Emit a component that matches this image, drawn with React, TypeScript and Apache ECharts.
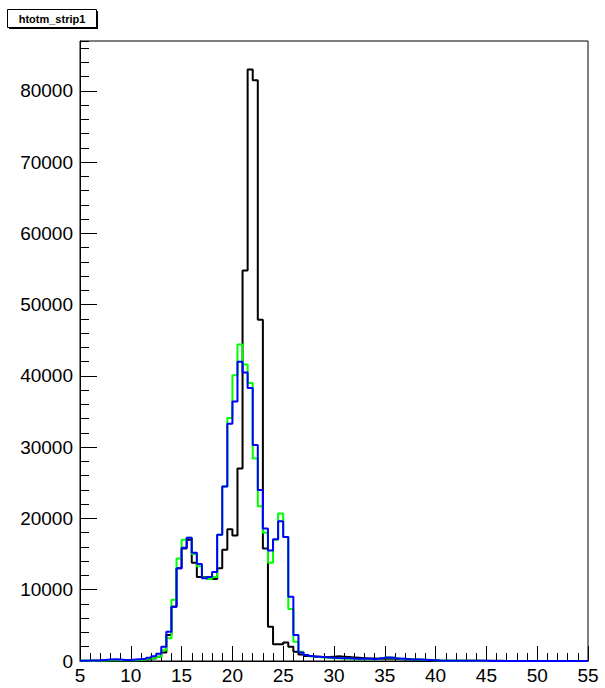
import React, { useEffect, useRef } from "react";
import * as echarts from "echarts";

const TITLE = "htotm_strip1";
const BIN_START = 5;
const BIN_WIDTH = 0.5;
const X_MIN = 5;
const X_MAX = 55;
const Y_MAX = 87000;

const blackCounts = [
  30, 40, 50, 60, 80, 90, 100, 110, 110, 130,
  150, 180, 200, 250, 350, 600, 1200, 3650, 7600, 13000,
  15800, 17000, 13800, 11800, 11800, 11500, 11500, 13000, 15600, 18500,
  17600, 27000, 54800, 83000, 81500, 47900, 15800, 4800, 2350, 2350,
  2600, 2000, 1300, 900, 700, 650, 600, 550, 550, 600,
  650, 600, 550, 500, 450, 400, 350, 350, 300, 300,
  350, 300, 250, 250, 200, 200, 180, 150, 120, 100,
  60, 50, 40, 40, 30, 30, 30, 20, 20, 20,
  20, 20, 20, 10, 10, 10, 10, 10, 10, 10,
  10, 10, 10, 10, 10, 10, 10, 10, 10, 10,
];

const greenCounts = [
  30, 40, 50, 60, 80, 100, 120, 110, 100, 100,
  120, 150, 200, 300, 400, 600, 1500, 3200, 8600, 14400,
  17000, 17300, 15000, 13300, 11700, 11500, 11800, 17700, 24500, 34100,
  40100, 44400, 41600, 39000, 28400, 21700, 18000, 13800, 17000, 20700,
  17400, 7300, 2700, 1300, 850, 650, 550, 500, 450, 400,
  380, 350, 330, 300, 280, 260, 250, 250, 280, 380,
  480, 420, 330, 280, 230, 200, 180, 160, 130, 100,
  30, 30, 20, 20, 20, 20, 20, 10, 10, 10,
  10, 10, 10, 10, 10, 10, 10, 10, 10, 10,
  10, 10, 10, 10, 10, 10, 10, 10, 10, 10,
];

const blueCounts = [
  50, 60, 80, 100, 150, 200, 250, 200, 150, 150,
  200, 250, 300, 450, 650, 1000, 2000, 4100, 7600, 13000,
  15900, 17300, 15200, 13600, 11600, 11800, 12500, 17700, 24500, 33300,
  36400, 42000, 40500, 38300, 30300, 24000, 18600, 15500, 17100, 19600,
  17400, 9000, 3650, 1200, 850, 700, 600, 550, 500, 450,
  420, 400, 380, 350, 330, 300, 300, 280, 300, 400,
  500, 450, 350, 300, 250, 220, 200, 180, 150, 120,
  40, 40, 30, 30, 30, 20, 20, 20, 20, 20,
  10, 10, 10, 10, 10, 10, 10, 10, 10, 10,
  10, 10, 10, 10, 10, 10, 10, 10, 10, 10,
];

const FONT = "'Liberation Sans', Arial, Helvetica, sans-serif";

function stepData(counts: number[]) {
  const pts: [number, number][] = counts.map((c, i) => [BIN_START + i * BIN_WIDTH, c]);
  pts.push([BIN_START + counts.length * BIN_WIDTH, counts[counts.length - 1]]);
  return pts;
}

function histSeries(name: string, counts: number[], color: string) {
  return {
    name,
    type: "line",
    step: "end",
    data: stepData(counts),
    showSymbol: false,
    symbol: "none",
    xAxisIndex: 0,
    yAxisIndex: 0,
    lineStyle: { color, width: 2 },
    clip: true,
  };
}

export default function App() {
  const ref = useRef<HTMLDivElement>(null);
  useEffect(() => {
    if (!ref.current) return;
    const chart = echarts.init(ref.current, undefined, { renderer: "svg" });
    const grid = { left: 80, right: 17, top: 41, bottom: 27, show: true, borderColor: "#000", borderWidth: 1, backgroundColor: "#fff" };
    chart.setOption({
      animation: false,
      backgroundColor: "#fff",
      grid,
      xAxis: [
        {
          type: "value", min: X_MIN, max: X_MAX, interval: 5,
          axisLine: { show: true, onZero: false, lineStyle: { color: "#000", width: 1 } },
          axisTick: { show: true, inside: true, length: 15, lineStyle: { color: "#000", width: 1 } },
          axisLabel: { color: "#000", fontSize: 19, fontFamily: FONT, margin: 5 },
          splitLine: { show: false },
        },
        {
          type: "value", min: X_MIN, max: X_MAX, interval: 1, position: "bottom",
          axisLine: { show: false },
          axisTick: { show: true, inside: true, length: 8, lineStyle: { color: "#000", width: 1 } },
          axisLabel: { show: false },
          splitLine: { show: false },
        },
      ],
      yAxis: [
        {
          type: "value", min: 0, max: Y_MAX, interval: 10000,
          axisLine: { show: true, onZero: false, lineStyle: { color: "#000", width: 1 } },
          axisTick: { show: true, inside: true, length: 17, lineStyle: { color: "#000", width: 1 } },
          axisLabel: { color: "#000", fontSize: 19, fontFamily: FONT, margin: 7, showMaxLabel: false,
            formatter: (v: number) => (v % 10000 === 0 ? String(v) : "") },
          splitLine: { show: false },
        },
        {
          type: "value", min: 0, max: Y_MAX, interval: 2000, position: "left", offset: 0,
          axisLine: { show: false },
          axisTick: { show: true, inside: true, length: 9, lineStyle: { color: "#000", width: 1 } },
          axisLabel: { show: false },
          splitLine: { show: false },
        },
      ],
      series: [
        histSeries("black", blackCounts, "#000000"),
        histSeries("green", greenCounts, "#00ff00"),
        histSeries("blue", blueCounts, "#0000ff"),
      ],
      graphic: [
        { type: "rect", shape: { x: 9, y: 11, width: 89, height: 18 }, style: { fill: "#000" } },
        { type: "rect", shape: { x: 7.5, y: 9.5, width: 89, height: 18 }, style: { fill: "#fff", stroke: "#000", lineWidth: 1 } },
        {
          type: "text", x: 52, y: 18.5,
          style: { text: TITLE, fill: "#000", font: `bold 11px ${FONT}`, align: "center", verticalAlign: "middle" },
        },
      ],
    });
    return () => chart.dispose();
  }, []);
  return <div ref={ref} style={{ position: "fixed", left: 0, top: 0, width: 605, height: 688 }} />;
}
